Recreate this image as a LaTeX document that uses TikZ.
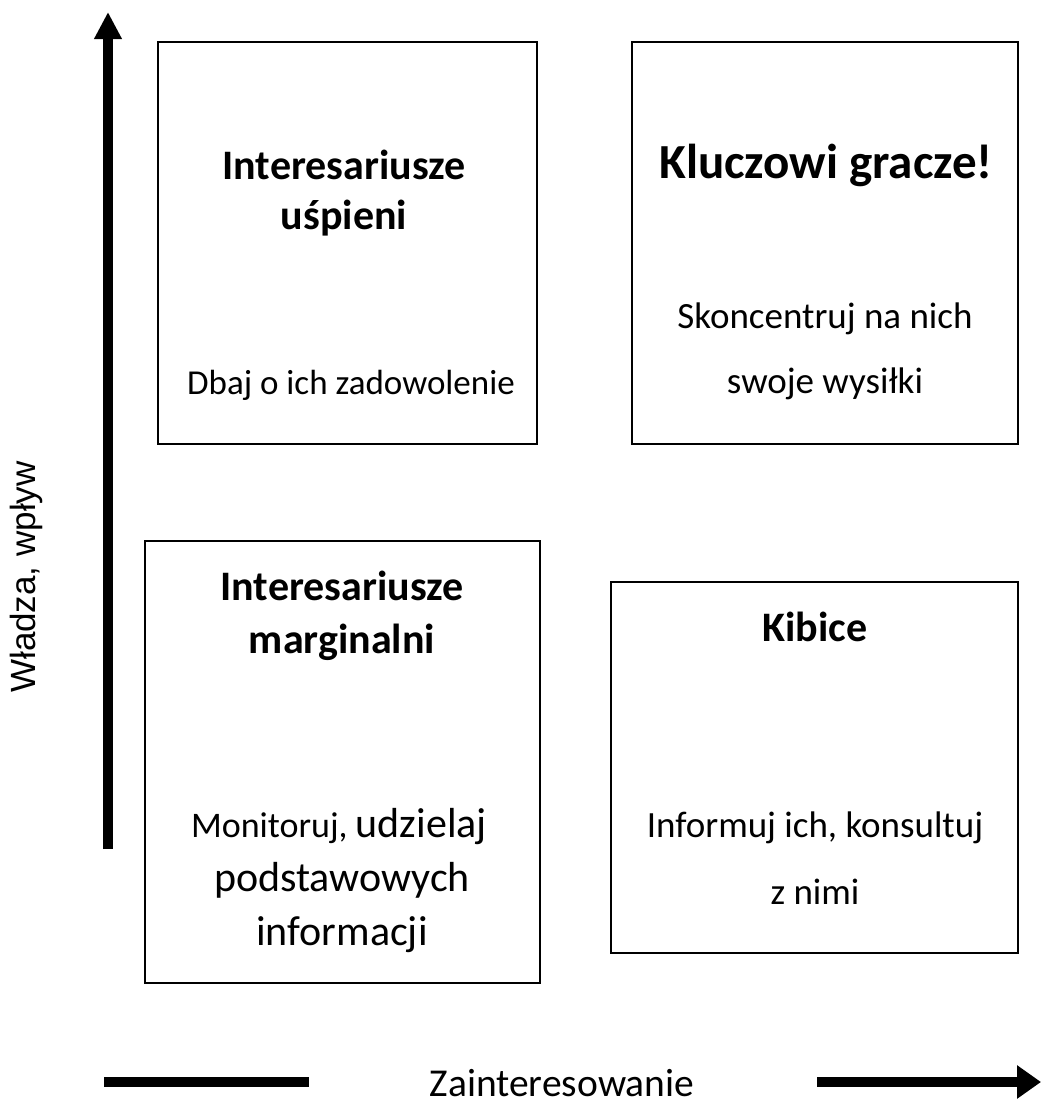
\documentclass[tikz,border=0pt]{standalone}
\usepackage{fontspec}
\setmainfont{Carlito}
\newfontfamily\arialfont{Liberation Sans}
\usetikzlibrary{arrows.meta}
\begin{document}
\begin{tikzpicture}[x=1pt,y=-1pt,
  quad/.style={draw=black,line width=1.8pt},
  head/.style={font=\fontsize{42}{50}\selectfont\bfseries,anchor=base},
  body/.style={font=\fontsize{37}{44}\selectfont,anchor=base},
  axis/.style={line width=9.5pt}]
\useasboundingbox (0,0) rectangle (1041,1106);
% boxes
\draw[quad] (158,42) rectangle (537,444);
\draw[quad] (632,42) rectangle (1018,444);
\draw[quad] (145,541) rectangle (540,983);
\draw[quad] (611,582) rectangle (1018,953);
% box 1
\node[head] (b1a) at (344,179) {Interesariusze};
\node[head] (b1b) at (344,229) {uśpieni};
\node[body,font=\fontsize{35}{42}\selectfont] (b1c) at (351,394) {Dbaj o ich zadowolenie};
% box 2
\node[head,font=\fontsize{49}{58}\selectfont\bfseries] (b2a) at (826,178) {Kluczowi gracze!};
\node[body] (b2b) at (825,328) {Skoncentruj na nich};
\node[body] (b2c) at (825,393) {swoje wysiłki};
% box 3
\node[head] (b3a) at (342,600) {Interesariusze};
\node[head] (b3b) at (342,653) {marginalni};
\node[body,font=\fontsize{36}{42}\selectfont] (b3c) at (339,837) {Monitoruj, {\fontsize{42}{48}\selectfont udzielaj}};
\node[body,font=\fontsize{42}{48}\selectfont] (b3d) at (342,891) {podstawowych};
\node[body,font=\fontsize{42}{48}\selectfont] (b3e) at (342,945) {informacji};
% box 4
\node[head] (b4a) at (815,641) {Kibice};
\node[body] (b4b) at (815,837) {Informuj ich, konsultuj};
\node[body] (b4c) at (815,904) {z nimi};
% axes
\coordinate (vb) at (108,849);
\coordinate (vt) at (108,12);
\draw[axis,-{Triangle[width=26pt,length=27pt]}] (vb) -- (vt);
\coordinate (hl1) at (104,1082);
\coordinate (hl2) at (309,1082);
\draw[axis] (hl1) -- (hl2);
\coordinate (hr1) at (817,1082);
\coordinate (hr2) at (1041,1082);
\draw[axis,-{Triangle[width=32pt,length=24pt]}] (hr1) -- (hr2);
\node[body,font=\fontsize{39.5}{48}\selectfont] (xl) at (562,1096) {Zainteresowanie};
\node[anchor=base,rotate=90,font=\arialfont\fontsize{35}{42}\selectfont] (yl) at (35,577) {Władza, wpływ};
\end{tikzpicture}
\end{document}
